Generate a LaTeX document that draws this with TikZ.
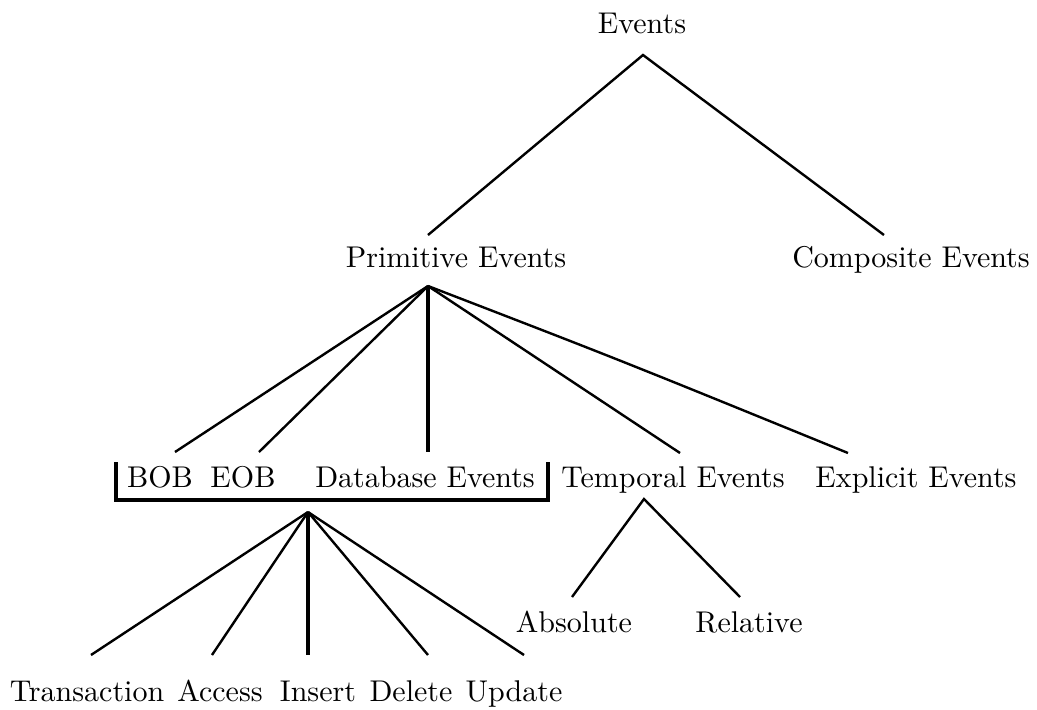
\documentclass[tikz,border=0pt]{standalone}
\usepackage{graphicx}
\newcommand{\bigtxt}[1]{\scalebox{3.0}{\fontsize{10}{12}\selectfont #1}}
\begin{document}
\begin{tikzpicture}[x=1pt,y=-1pt,
  lbl/.style={anchor=base,inner sep=0pt},
  edge/.style={line width=2.4pt},
  bold/.style={line width=4.8pt}]
\useasboundingbox (0,0) rectangle (1037,710);
% labels
\node[lbl] (ev) at (642,33) {\bigtxt{Events}};
\node[lbl] (prim) at (456,267) {\bigtxt{Primitive Events}};
\node[lbl] (comp) at (911,267) {\bigtxt{Composite Events}};
\node[lbl] (bob) at (160,487) {\bigtxt{BOB}};
\node[lbl] (eob) at (243,487) {\bigtxt{EOB}};
\node[lbl] (db) at (425,487) {\bigtxt{Database Events}};
\node[lbl] (temp) at (673,487) {\bigtxt{Temporal Events}};
\node[lbl] (expl) at (916,487) {\bigtxt{Explicit Events}};
\node[lbl] (abs) at (574,632) {\bigtxt{Absolute}};
\node[lbl] (rel) at (749,632) {\bigtxt{Relative}};
\node[lbl] (tra) at (87,701) {\bigtxt{Transaction}};
\node[lbl] (acc) at (220,701) {\bigtxt{Access}};
\node[lbl] (ins) at (318,701) {\bigtxt{Insert}};
\node[lbl] (del) at (411,701) {\bigtxt{Delete}};
\node[lbl] (upd) at (514,701) {\bigtxt{Update}};
% connector points
\coordinate (evA) at (643,55);
\coordinate (primT) at (428,235);
\coordinate (compT) at (884,235);
\coordinate (primA) at (428,286);
\coordinate (bobT) at (175,452);
\coordinate (eobT) at (259,452);
\coordinate (dbT) at (428,452);
\coordinate (tempT) at (680,453);
\coordinate (explT) at (848,453);
\coordinate (tempA) at (644,499);
\coordinate (absT) at (572,597);
\coordinate (relT) at (740,597);
\coordinate (dbA) at (308,512);
\coordinate (traT) at (91,655);
\coordinate (accT) at (212,655);
\coordinate (insT) at (308,655);
\coordinate (delT) at (428,655);
\coordinate (updT) at (524,655);
\coordinate (brTL) at (116,462);
\coordinate (brBL) at (116,500);
\coordinate (brBR) at (548,500);
\coordinate (brTR) at (548,462);
% edges
\draw[edge] (primT) -- (evA) -- (compT);
\draw[edge] (primA) -- (bobT);
\draw[edge] (primA) -- (eobT);
\draw[bold] (primA) -- (dbT);
\draw[edge] (primA) -- (tempT);
\draw[edge] (primA) .. controls (620,360) .. (explT);
\draw[edge] (absT) -- (tempA) -- (relT);
\draw[bold,line join=miter] (brTL) -- (brBL) -- (brBR) -- (brTR);
\draw[edge] (dbA) -- (traT);
\draw[edge] (dbA) -- (accT);
\draw[bold] (dbA) -- (insT);
\draw[edge] (dbA) -- (delT);
\draw[edge] (dbA) -- (updT);
\end{tikzpicture}
\end{document}
